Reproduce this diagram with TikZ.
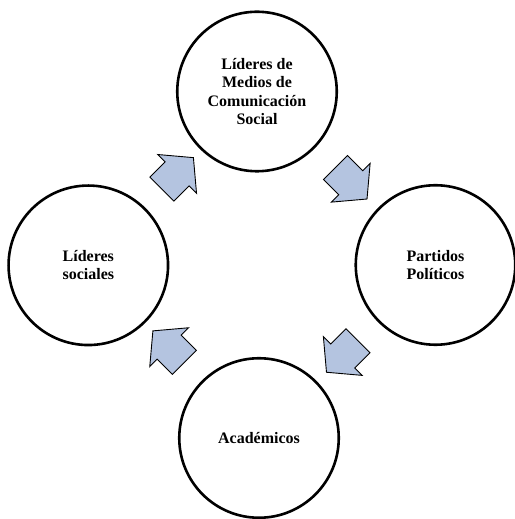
\documentclass[tikz,border=0pt]{standalone}
\usepackage{fontspec}
\setmainfont{Liberation Serif}
\usetikzlibrary{shapes.arrows,calc}

\definecolor{flechaazul}{RGB}{180,196,224}

\tikzset{
  actor/.style={draw, circle, line width=2.6pt, minimum size=159.5pt, inner sep=0pt,
    align=center, font=\fontsize{16}{18.3}\selectfont\bfseries},
  flecha/.style={single arrow, draw, line width=0.9pt, fill=flechaazul,
    minimum height=44.5pt, inner xsep=0pt, inner ysep=16.5pt,
    single arrow head extend=10.5pt, single arrow tip angle=100}
}

\begin{document}
\begin{tikzpicture}[x=1pt, y=1pt]
\useasboundingbox (0,0) rectangle (514,519);

% actores
\node[actor] (medios) at (257,427.5) {Líderes de\\Medios de\\Comunicación\\Social};
\node[actor] (partidos) at (435.5,254) {Partidos\\Políticos};
\node[actor] (academicos) at (259,81) {Académicos};
\node[actor] (sociales) at (88.3,253.7) {Líderes\\sociales};

% flechas del ciclo
\node[flecha, rotate=45] (f1) at ($(sociales)!0.5!(medios)$) {};
\node[flecha, rotate=-45] (f2) at ($(medios)!0.5!(partidos)$) {};
\node[flecha, rotate=-135] (f3) at ($(partidos)!0.5!(academicos)$) {};
\node[flecha, rotate=135] (f4) at ($(academicos)!0.5!(sociales)$) {};
\end{tikzpicture}
\end{document}
